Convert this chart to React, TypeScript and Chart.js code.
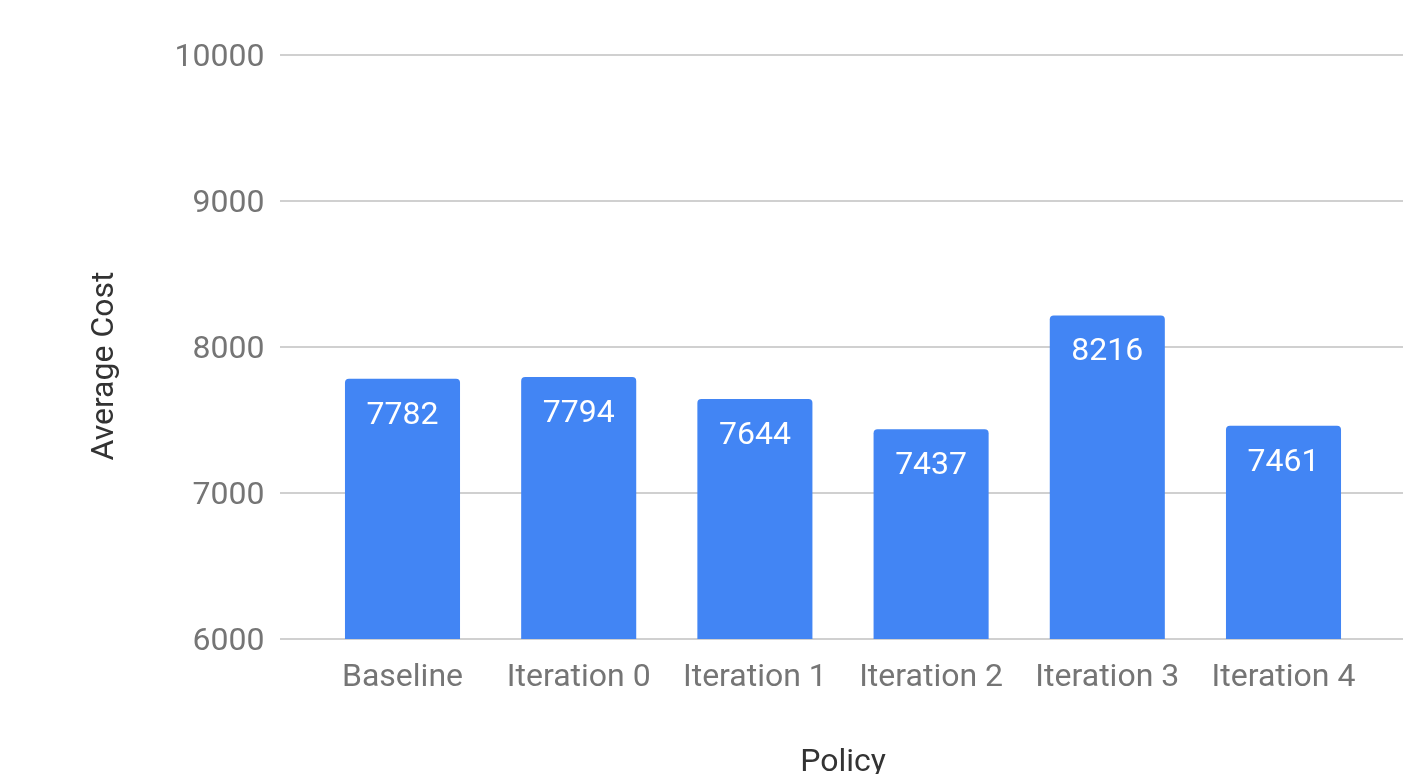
import React, { useEffect, useRef } from "react";
import { Chart, registerables } from "chart.js";

Chart.register(...registerables);

const categories = ["Baseline", "Iteration 0", "Iteration 1", "Iteration 2", "Iteration 3", "Iteration 4"];
const averageCost = [7782, 7794, 7644, 7437, 8216, 7461];
const yTickValues = [6000, 7000, 8000, 9000, 10000];
const xTitle = "Policy";
const yTitle = "Average Cost";

const FONT = "Roboto";

export default function App() {
  const ref = useRef<HTMLCanvasElement>(null);

  useEffect(() => {
    document.body.style.margin = "0";
    const canvas = ref.current;
    if (!canvas) return;

    const gridPlugin = {
      id: "gridExt",
      beforeDatasetsDraw(chart: any) {
        const y = chart.scales.y;
        const ctx = chart.ctx;
        ctx.save();
        ctx.strokeStyle = "#d0d0d0";
        ctx.lineWidth = 2;
        yTickValues.forEach((v) => {
          const py = Math.round(y.getPixelForValue(v));
          ctx.beginPath();
          ctx.moveTo(280, py);
          ctx.lineTo(chart.width, py);
          ctx.stroke();
        });
        ctx.restore();
      },
    };

    const labelPlugin = {
      id: "barLabels",
      afterDatasetsDraw(chart: any) {
        const meta = chart.getDatasetMeta(0);
        const ctx = chart.ctx;
        ctx.save();
        ctx.font = `32px ${FONT}`;
        ctx.fillStyle = "#ffffff";
        ctx.textAlign = "center";
        ctx.textBaseline = "alphabetic";
        meta.data.forEach((el: any, i: number) => {
          ctx.fillText(String(averageCost[i]), el.x, el.y + 45);
        });
        // y-axis title
        ctx.translate(105, 366);
        ctx.rotate(-Math.PI / 2);
        ctx.font = `32px ${FONT}`;
        ctx.fillStyle = "#333333";
        ctx.textAlign = "center";
        ctx.textBaseline = "middle";
        ctx.fillText(yTitle, 0, 0);
        ctx.restore();
      },
    };

    const chart = new Chart(canvas, {
      type: "bar",
      data: {
        labels: categories,
        datasets: [
          {
            data: averageCost,
            backgroundColor: "#4285f4",
            borderRadius: 4,
            borderSkipped: "start",
            barPercentage: 0.653,
            categoryPercentage: 1,
          },
        ],
      },
      options: {
        animation: false,
        responsive: true,
        maintainAspectRatio: false,
        layout: { padding: { top: 55, right: 31.4, left: 0, bottom: 0 } },
        plugins: {
          legend: { display: false },
          tooltip: { enabled: false },
        },
        scales: {
          x: {
            type: "category",
            offset: true,
            grid: { display: false, drawTicks: false, tickLength: 0 },
            border: { display: false },
            ticks: {
              font: { family: FONT, size: 32 },
              color: "#757575",
              padding: 20,
              maxRotation: 0,
              autoSkip: false,
            },
            afterFit: (s: any) => {
              s.height = 135;
              s.paddingLeft = 0;
              s.paddingRight = 0;
            },
            title: {
              display: true,
              text: xTitle,
              color: "#333333",
              font: { family: FONT, size: 32, lineHeight: 0.5 },
              padding: { top: 0, bottom: 3 },
            },
          },
          y: {
            min: 6000,
            max: 10000,
            grid: { display: false, drawTicks: false, tickLength: 0 },
            border: { display: false },
            ticks: {
              stepSize: 1000,
              autoSkip: false,
              font: { family: FONT, size: 32 },
              color: "#757575",
              padding: 50,
              labelOffset: 3,
              callback: (v: any) => String(v),
            },
            afterFit: (s: any) => {
              s.width = 314.4;
              s.paddingTop = 0;
              s.paddingBottom = 0;
            },
            title: { display: false },
          },
        },
      },
      plugins: [gridPlugin, labelPlugin],
    });

    return () => chart.destroy();
  }, []);

  return (
    <div style={{ position: "absolute", left: 0, top: 0, width: 1403, height: 774 }}>
      <canvas ref={ref} />
    </div>
  );
}
